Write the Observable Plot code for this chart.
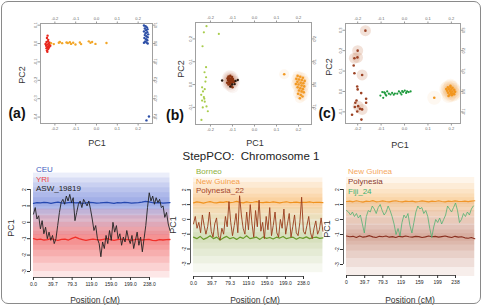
<!DOCTYPE html>
<html><head><meta charset="utf-8">
<script src="https://cdn.jsdelivr.net/npm/d3@7"></script>
<script src="https://cdn.jsdelivr.net/npm/@observablehq/plot@0.6"></script>
<style>
body{margin:0;background:#fff;font-family:"Liberation Sans",Arial,sans-serif;}
#fig{position:relative;width:483px;height:306px;overflow:hidden;background:#fff;}
#border{position:absolute;left:1px;top:1px;width:480px;height:303px;border:1.5px solid #8a8a8a;border-radius:7px;box-sizing:border-box;z-index:5;}
.lbl{position:absolute;white-space:pre;line-height:1;z-index:4;}
</style></head>
<body><div id="fig"><div id="border"></div></div>
<script>
// ---------- top panels: PCA scatter data [PC1, PC2] ----------
const aYRI = [[-0.235,0.043],[-0.238,0.03],[-0.232,0.02],[-0.24,0.008],[-0.228,0.0],[-0.236,-0.005],[-0.242,-0.012],[-0.23,-0.015],[-0.235,-0.02],[-0.226,-0.008],[-0.24,-0.025],[-0.232,-0.03],[-0.238,-0.038],[-0.228,-0.022],[-0.222,-0.012],[-0.245,-0.002],[-0.233,0.012],[-0.225,0.005],[-0.236,-0.045]];
const aASW = [[-0.218,0.002],[-0.205,-0.003],[-0.181,0.004],[-0.176,0.008],[-0.165,0.002],[-0.144,0.006],[-0.138,0.003],[-0.128,0.007],[-0.122,-0.002],[-0.112,0.004],[-0.101,-0.005],[-0.08,0.006],[-0.074,-0.003],[-0.037,0.012],[-0.029,0.004],[-0.021,0.008],[-0.005,-0.002],[0.048,0.003]];
const aCEU = [[0.228,0.098],[0.236,0.094],[0.242,0.088],[0.232,0.082],[0.245,0.078],[0.238,0.072],[0.228,0.066],[0.244,0.062],[0.236,0.056],[0.248,0.05],[0.232,0.046],[0.24,0.04],[0.246,0.034],[0.23,0.03],[0.238,0.024],[0.244,0.018],[0.234,0.012],[0.24,0.006],[0.228,0.004],[0.246,0.0],[0.252,-0.397],[0.24,-0.418]];

const bBorneo = [[-0.218,0.256],[-0.162,0.222],[-0.23,0.229],[-0.236,0.168],[-0.22,0.076],[-0.227,0.054],[-0.22,0.032],[-0.223,0.013],[-0.238,-0.012],[-0.226,-0.02],[-0.234,-0.03],[-0.242,-0.045],[-0.23,-0.055],[-0.238,-0.07],[-0.226,-0.075],[-0.218,-0.096],[-0.235,-0.1],[-0.212,-0.117],[-0.241,-0.155],[-0.228,-0.062]];
const bPoly = [[-0.118,0.035],[-0.11,0.038],[-0.102,0.033],[-0.122,0.028],[-0.114,0.027],[-0.106,0.026],[-0.098,0.024],[-0.12,0.02],[-0.112,0.019],[-0.104,0.018],[-0.096,0.016],[-0.116,0.012],[-0.108,0.011],[-0.1,0.01],[-0.124,0.008],[-0.112,0.004],[-0.104,0.003],[-0.118,0.0],[-0.092,0.012],[-0.108,-0.006],[-0.1,-0.012]];
const bFiji = [[-0.147,0.018],[-0.086,0.016],[-0.076,0.02],[-0.101,0.0],[-0.09,0.002],[-0.11,-0.009]];
const bNG = [[0.196,0.038],[0.208,0.034],[0.22,0.03],[0.19,0.025],[0.202,0.022],[0.215,0.02],[0.228,0.016],[0.195,0.012],[0.21,0.008],[0.222,0.006],[0.188,0.002],[0.2,0.0],[0.214,-0.004],[0.226,-0.008],[0.196,-0.012],[0.208,-0.016],[0.22,-0.02],[0.202,-0.026],[0.214,-0.03],[0.224,-0.034],[0.198,-0.04],[0.21,-0.046],[0.218,-0.052],[0.206,-0.06],[0.135,0.045]];

const cPoly = [[-0.167,0.298],[-0.2,0.2],[-0.201,0.167],[-0.214,0.163],[-0.217,0.127],[-0.214,0.089],[-0.181,0.081],[-0.202,0.024],[-0.2,0.01],[-0.185,-0.008],[-0.205,-0.044],[-0.164,-0.036],[-0.164,-0.055],[-0.198,-0.072],[-0.212,-0.076],[-0.181,-0.088],[-0.202,-0.098],[-0.224,-0.114],[-0.184,-0.138],[-0.19,-0.085],[-0.21,-0.055]];
const cPolyHalo = [[-0.167,0.298],[-0.2,0.2],[-0.201,0.167],[-0.214,0.163],[-0.181,0.081],[-0.181,-0.088],[-0.198,-0.072]];
const cFiji = [[-0.103,-0.02],[-0.095,-0.003],[-0.091,-0.031],[-0.084,-0.007],[-0.078,-0.02],[-0.074,0.0],[-0.067,-0.011],[-0.06,-0.015],[-0.053,-0.007],[-0.041,-0.01],[-0.031,-0.011],[-0.024,0.0],[-0.017,-0.007],[-0.013,-0.015],[-0.006,-0.003],[0.001,0.004],[0.007,-0.007],[0.011,0.0],[0.018,-0.003],[0.026,0.0],[-0.081,-0.015],[-0.046,-0.016],[-0.01,0.002],[-0.087,-0.004]];
const cNG = [[0.185,0.02],[0.196,0.022],[0.205,0.018],[0.178,0.012],[0.19,0.012],[0.2,0.01],[0.212,0.008],[0.182,0.004],[0.194,0.002],[0.204,0.0],[0.216,-0.002],[0.186,-0.006],[0.198,-0.008],[0.208,-0.01],[0.192,-0.016],[0.202,-0.018],[0.212,-0.014],[0.196,0.028],[0.188,-0.022],[0.127,-0.031]];

const pcTicks = [-0.2,-0.1,0,0.1,0.2];
const aYTicks = [0.1,0,-0.1,-0.2,-0.3,-0.4];
const bYTicks = [0.2,0.1,0,-0.1];
const cYTicks = [0.3,0.2,0.1,0,-0.1];

// ---------- bottom panels: StepPCO PC1 along chromosome 1 ----------
const posTicks = [0,39.7,79.3,119,159,199,238];
const posLabels = ["0.0","39.7","79.3","119.0","159.0","199.0","238.0"];
const posLabels3 = ["0","39.7","79.3","119","159","199","238"];
const pc1Ticks = [2,1,0,-1,-2,-3];
const chromEnd = 280;

const ceu = [1.15,1.2,1.18,1.22,1.2,1.16,1.2,1.23,1.19,1.17,1.2,1.22,1.18,1.2,1.15,1.19,1.21,1.2,1.17,1.18,1.2,1.22,1.19,1.16,1.2,1.18,1.21,1.2,1.17,1.19,1.2,1.23,1.28,1.25,1.2,1.18,1.2,1.17,1.19,1.2];
const yri = [-1.0,-1.05,-1.02,-1.08,-1.05,-1.0,-1.06,-1.1,-1.04,-1.02,-1.08,-0.98,-0.9,-1.0,-1.05,-1.1,-1.06,-1.02,-1.05,-1.08,-1.04,-1.0,-1.06,-1.1,-1.05,-1.02,-1.07,-1.04,-1.1,-1.05,-1.02,-1.08,-1.06,-1.04,-1.1,-1.12,-1.05,-1.08,-1.06,-1.05];
const asw19819 = [0.5,0.9,0.2,0.4,-0.4,0.1,-0.7,-0.3,-1.0,-0.6,-1.1,-0.8,-1.3,-1.0,-0.2,0.6,1.2,1.4,1.1,1.6,1.3,1.7,1.2,1.5,0.1,0.6,1.1,1.3,0.9,1.4,1.2,1.0,1.3,0.8,0.2,-0.5,-0.2,-1.0,-1.3,-2.1,-1.2,-1.6,-0.8,-1.3,-0.5,-1.1,0.0,-0.6,-0.2,-1.0,-0.7,-1.4,-0.9,-1.2,-0.5,-1.0,-1.3,-0.8,-1.6,-1.1,-0.6,-1.4,-0.9,-1.8,-1.0,-0.2,0.9,1.8,1.3,1.6,1.1,1.5,1.2,1.4,0.9,1.0,0.3,0.6,-0.1,-0.5];
const ceuBands = [[-0.8,3.0],[-0.3,2.7],[0.2,2.4],[0.5,2.1],[0.75,1.8],[0.95,1.5]];
const yriBands = [[-3.4,0.8],[-3.0,0.4],[-2.5,0.0],[-2.1,-0.3],[-1.7,-0.55],[-1.4,-0.75]];

const newGuinea2 = [1.12,1.18,1.15,1.1,1.16,1.2,1.14,1.12,1.17,1.15,1.2,1.13,1.16,1.22,1.15,1.12,1.18,1.14,1.16,1.2,1.15,1.13,1.17,1.14,1.18,1.15,1.12,1.16,1.19,1.14,1.15,1.17,1.13,1.16,1.15,1.18,1.14,1.16,1.15,1.13];
const borneo = [-1.2,-1.3,-1.15,-1.35,-1.25,-1.1,-1.3,-1.2,-1.4,-1.25,-1.15,-1.3,-1.22,-1.35,-1.2,-1.28,-1.1,-1.3,-1.25,-1.2,-1.35,-1.18,-1.28,-1.22,-1.32,-1.2,-1.26,-1.15,-1.3,-1.24,-1.2,-1.34,-1.22,-1.28,-1.18,-1.3,-1.24,-1.2,-1.28,-1.25];
const polynesia22 = [-0.3,0.2,-0.6,-0.2,-0.9,0.3,-0.4,-1.0,-0.5,0.5,-0.8,-1.2,-0.3,0.1,-1.1,-1.4,-0.6,-1.0,0.2,-0.5,1.2,-0.2,-1.1,-0.4,0.4,-0.9,1.6,0.3,-0.6,-1.0,0.5,-0.7,1.0,-0.3,-1.2,0.6,-0.5,1.3,-0.8,-0.2,-1.3,0.2,-0.7,0.8,-1.1,-0.4,0.5,-0.9,-1.2,0.0,-0.6,0.7,-1.0,-0.3,0.4,-1.2,-0.5,0.3,-0.9,-1.1,-0.2,1.5,-0.8,-1.0,-0.4,0.2,-0.9,-1.3,-0.6,-0.1,-1.0,-0.7,0.1,-0.8];
const ngBands2 = [[-0.4,2.8],[0.0,2.5],[0.4,2.1],[0.7,1.7],[0.9,1.45]];
const borneoBands = [[-3.6,0.8],[-3.0,0.3],[-2.5,-0.2],[-2.0,-0.6],[-1.6,-0.9]];

const newGuinea3 = [1.2,1.22,1.18,1.25,1.2,1.16,1.22,1.2,1.26,1.18,1.2,1.24,1.2,1.17,1.22,1.25,1.2,1.18,1.23,1.2,1.22,1.17,1.2,1.24,1.21,1.18,1.22,1.2,1.25,1.2,1.18,1.22,1.2,1.24,1.21,1.2,1.23,1.19,1.22,1.25];
const polynesia3 = [-1.1,-1.15,-1.12,-1.2,-1.1,-1.18,-1.14,-1.08,-1.16,-1.2,-1.12,-1.15,-1.1,-1.18,-1.14,-1.2,-1.12,-1.16,-1.1,-1.15,-1.18,-1.12,-1.14,-1.2,-1.16,-1.1,-1.15,-1.12,-1.18,-1.14,-1.1,-1.16,-1.2,-1.12,-1.18,-1.15,-1.22,-1.25,-1.2,-1.28];
const fiji24 = [0.6,0.5,0.3,0.5,0.2,0.4,0.1,0.3,-0.3,-0.9,0.2,0.6,0.5,0.9,0.7,0.4,0.8,1.0,0.6,0.3,0.5,0.9,0.6,0.2,-0.3,-1.0,-0.6,-1.1,-0.2,0.3,0.1,0.4,-0.4,-0.9,-0.2,0.5,0.9,0.7,0.8,0.4,0.6,0.2,-0.6,-1.2,-0.5,0.0,-0.2,0.1,-0.3,0.0,0.3,0.9,0.7,0.5,0.8,1.1,0.6,-0.2,0.0,0.4,0.2,0.5,0.3,0.7,0.9];
const ngBands3 = [[-0.3,2.8],[0.2,2.4],[0.5,2.0],[0.8,1.7],[1.0,1.45]];
const polyBands = [[-3.8,1.2],[-3.2,0.6],[-2.6,0.1],[-2.1,-0.4],[-1.7,-0.7],[-1.45,-0.95]];

// ---------- helpers ----------
const fig = document.getElementById("fig");
const FONT = "Liberation Sans, Arial, sans-serif";
const f1 = d => d.toFixed(1);

function mount(svg){
  svg.style.position = "absolute"; svg.style.left = "0px"; svg.style.top = "0px";
  svg.style.background = "transparent"; svg.style.overflow = "visible";
  fig.appendChild(svg);
}

function topPanel(fr, xd, yd, yTicks, marks){
  const [L,R,T,B] = fr;
  const ax = {stroke:"#9a9a9a", fill:"#666", fontSize:4, tickSize:2.5, tickPadding:1.5, label:null};
  return Plot.plot({
    width:483, height:306, marginLeft:L, marginRight:483-R, marginTop:T, marginBottom:306-B,
    style:{fontFamily:FONT},
    x:{domain:xd}, y:{domain:yd},
    marks:[
      ...marks,
      Plot.frame({stroke:"#a0a0a0", strokeWidth:1}),
      Plot.axisX({...ax, anchor:"top", ticks:pcTicks, tickFormat:f1}),
      Plot.axisX({...ax, anchor:"bottom", ticks:pcTicks, tickFormat:f1}),
      Plot.axisY({...ax, anchor:"left", ticks:yTicks, tickFormat:f1, tickRotate:-90}),
      Plot.axisY({...ax, anchor:"right", ticks:yTicks, tickFormat:f1, tickRotate:-90})
    ]
  });
}

const pts = (data, fill, r=1.3) => Plot.dot(data, {x:d=>d[0], y:d=>d[1], r, fill, stroke:null});
const halo = (data, fill, r, op) => Plot.dot(data, {x:d=>d[0], y:d=>d[1], r, fill, fillOpacity:op, stroke:null});

mount(topPanel([40,152,23,123], [-0.269,0.269], [-0.435,0.109], aYTicks, [
  pts(aYRI, "#e8261c", 1.2), pts(aASW, "#f2a628", 1.2), pts(aCEU, "#2c4ea6", 1.2)
]));
mount(topPanel([195,311,22,124], [-0.268,0.259], [-0.175,0.272], bYTicks, [
  halo(bPoly, "#c98a70", 6, 0.08), halo(bNG, "#f6b060", 5, 0.1),
  pts(bBorneo, "#a8cc4c", 1.1), pts(bPoly, "#8a3410", 1.3), pts(bFiji, "#2a1a10", 1.2), pts(bNG, "#f29a24", 1.3)
]));
mount(topPanel([345,460,23,123], [-0.252,0.239], [-0.157,0.333], cYTicks, [
  halo(cPolyHalo, "#d9a890", 5.5, 0.35), halo(cNG, "#f6b468", 7, 0.09),
  pts(cPoly, "#9c4224", 1.3), pts(cFiji, "#1d9a3c", 1.1), pts(cNG, "#f2961e", 1.3)
]));

function botPanel(g, bands, lines){
  const kx = (g.x238 - g.x0) / 238;
  const xd = [(g.L - g.x0)/kx, (g.R - g.x0)/kx];
  const ky = (g.ym3 - g.y2) / 5;
  const yd = [2 - (g.B - g.y2)/ky, 2 + (g.y2 - g.T)/ky];
  const lab = new Map(posTicks.map((t,i)=>[t, g.labels[i]]));
  const marks = [];
  for (const b of bands) {
    marks.push(Plot.rect(b.data, {x1:()=>0, x2:()=>chromEnd, y1:d=>d[0], y2:d=>d[1], fill:b.fill, fillOpacity:b.op}));
  }
  for (const l of lines) {
    const step = l.end / (l.data.length - 1);
    marks.push(Plot.line(l.data, {x:(d,i)=>i*step, y:d=>d, stroke:l.stroke, strokeWidth:l.w ?? 1.2, strokeOpacity:l.op ?? 1}));
  }
  marks.push(
    Plot.ruleX([xd[0]], {x:d=>d, y1:()=>-3, y2:()=>2, stroke:"#333", strokeWidth:0.8}),
    Plot.ruleY([yd[0]], {y:d=>d, x1:()=>0, x2:()=>238, stroke:"#333", strokeWidth:0.8}),
    Plot.axisY({anchor:"left", ticks:pc1Ticks, tickFormat:d=>String(d), tickRotate:-90, tickSize:3, tickPadding:2, fontSize:5, stroke:"#333", fill:"#222", label:null}),
    Plot.axisX({anchor:"bottom", ticks:posTicks, tickFormat:d=>lab.get(d), tickSize:3, tickPadding:2, fontSize:5, stroke:"#333", fill:"#222", label:null})
  );
  return Plot.plot({
    width:483, height:306, marginLeft:g.L, marginRight:483-g.R, marginTop:g.T, marginBottom:306-g.B,
    style:{fontFamily:FONT}, x:{domain:xd}, y:{domain:yd}, marks
  });
}

mount(botPanel({x0:33, x238:149, L:30, R:169, y2:189, ym3:271, T:172, B:277, labels:posLabels},
  [{data:ceuBands, fill:"#4a66d0", op:0.11}, {data:yriBands, fill:"#f03a3a", op:0.12}],
  [{data:ceu, stroke:"#2548b0", end:chromEnd, w:1.3}, {data:yri, stroke:"#f0302a", end:chromEnd, w:1.3}, {data:asw19819, stroke:"#222", end:chromEnd, w:0.9}]));
mount(botPanel({x0:193, x238:303, L:190, R:323, y2:189.3, ym3:263.3, T:176, B:276, labels:posLabels},
  [{data:ngBands2, fill:"#f59a30", op:0.11}, {data:borneoBands, fill:"#8aa83a", op:0.08}],
  [{data:newGuinea2, stroke:"#f0921e", end:chromEnd}, {data:borneo, stroke:"#6a9a2a", end:chromEnd}, {data:polynesia22, stroke:"#9a3c1c", end:chromEnd, w:0.9}]));
mount(botPanel({x0:346, x238:455, L:343, R:473, y2:189, ym3:264, T:176, B:275, labels:posLabels3},
  [{data:ngBands3, fill:"#f5a040", op:0.11}, {data:polyBands, fill:"#b05a3a", op:0.1}],
  [{data:newGuinea3, stroke:"#f0962a", end:chromEnd}, {data:polynesia3, stroke:"#8a3020", end:chromEnd}, {data:fiji24, stroke:"#4cb070", end:277, w:0.9, op:0.85}]));

// ---------- text ----------
function label(text, x, y, o={}){
  const d = document.createElement("div");
  d.className = "lbl";
  d.textContent = text;
  d.style.left = x + "px"; d.style.top = y + "px";
  d.style.fontSize = (o.size || 9) + "px";
  d.style.color = o.color || "#333";
  if (o.weight) d.style.fontWeight = o.weight;
  const tx = o.anchor === "start" ? "0" : "-50%";
  d.style.transform = `translate(${tx},-50%)`;
  fig.appendChild(d);
  return d;
}
function vlabel(text, x, y, size){
  const d = document.createElement("div");
  d.className = "lbl"; d.textContent = text;
  d.style.fontSize = size + "px"; d.style.color = "#333";
  d.style.left = x + "px"; d.style.top = y + "px";
  d.style.transform = "translate(-50%,-50%) rotate(-90deg)";
  fig.appendChild(d);
}

vlabel("PC2", 22, 75, 9); vlabel("PC2", 181, 69, 9); vlabel("PC2", 329, 67, 9);
label("PC1", 97, 143, {size:9}); label("PC1", 255, 143, {size:9}); label("PC1", 400, 145, {size:9});
label("(a)", 17, 113, {size:14, weight:"bold", color:"#111"});
label("(b)", 175, 115, {size:14, weight:"bold", color:"#111"});
label("(c)", 327, 113, {size:14, weight:"bold", color:"#111"});
label("StepPCO:  Chromosome 1", 251, 157, {size:11.5, color:"#222"});

label("CEU", 36, 170, {size:8, color:"#3f60c0", anchor:"start"});
label("YRI", 36, 180, {size:8, color:"#f04848", anchor:"start"});
label("ASW_19819", 36, 189, {size:8, color:"#222", anchor:"start"});
label("Borneo", 196, 172, {size:8, color:"#8fb040", anchor:"start"});
label("New Guinea", 196, 182, {size:8, color:"#f5a04a", anchor:"start"});
label("Polynesia_22", 196, 191, {size:8, color:"#a5452a", anchor:"start"});
label("New Guinea", 348, 172, {size:8, color:"#f5a860", anchor:"start"});
label("Polynesia", 348, 182, {size:8, color:"#8a3a2a", anchor:"start"});
label("Fiji_24", 348, 192, {size:8, color:"#40b070", anchor:"start"});

vlabel("PC1", 11, 228, 9); vlabel("PC1", 173, 225, 9); vlabel("PC1", 327, 229, 9);
label("Position (cM)", 95, 300, {size:8.5}); label("Position (cM)", 255, 300, {size:8.5}); label("Position (cM)", 410, 300, {size:8.5});
</script>
</body></html>
